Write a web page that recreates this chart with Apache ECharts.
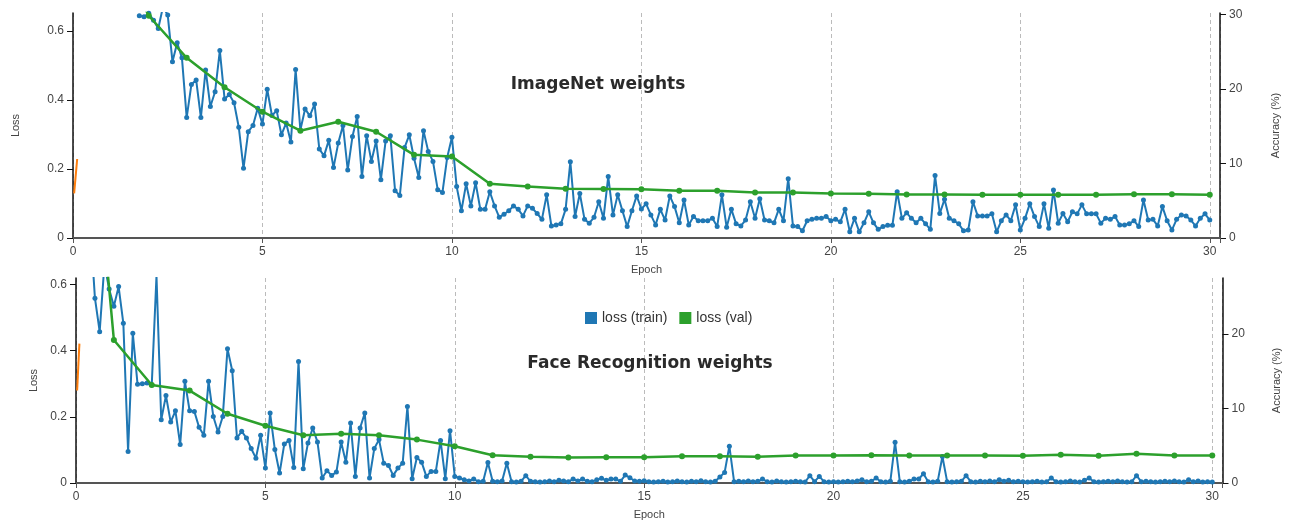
<!DOCTYPE html>
<html>
<head>
<meta charset="utf-8">
<script src="https://cdn.jsdelivr.net/npm/echarts@6/dist/echarts.min.js"></script>
<style>
html,body{margin:0;padding:0;background:#fff;}
#chart{width:1293px;height:526px;}
</style>
</head>
<body>
<div id="chart"></div>
<script>
// ---------- data ----------
const STEPS_PER_EPOCH = 8;
const X_TICKS = [0, 5, 10, 15, 20, 25, 30];
const LOSS_TICKS = [0, 0.2, 0.4, 0.6];
const ACC_TICKS_TOP = [0, 10, 20, 30];
const ACC_TICKS_BOTTOM = [0, 10, 20];
const TITLE_TOP = 'ImageNet weights';
const TITLE_BOTTOM = 'Face Recognition weights';

// ImageNet weights: training loss, 8 samples per epoch, first sample at epoch 1.75
const topTrainStart = 1.75;
const topTrainLoss = [
  0.644, 0.641,
  0.651, 0.631, 0.607, 0.67, 0.646, 0.511, 0.566, 0.522,
  0.349, 0.445, 0.458, 0.349, 0.487, 0.381, 0.424, 0.543,
  0.403, 0.416, 0.392, 0.321, 0.202, 0.308, 0.326, 0.376,
  0.330, 0.431, 0.355, 0.369, 0.299, 0.333, 0.278, 0.488,
  0.313, 0.374, 0.354, 0.388, 0.258, 0.238, 0.283, 0.204,
  0.275, 0.326, 0.197, 0.294, 0.352, 0.178, 0.296, 0.222,
  0.281, 0.169, 0.281, 0.296, 0.137, 0.123, 0.262, 0.299,
  0.231, 0.175, 0.311, 0.251, 0.222, 0.140, 0.132, 0.233,
  0.292, 0.149, 0.079, 0.157, 0.093, 0.160, 0.083, 0.083,
  0.134, 0.093, 0.060, 0.069, 0.079, 0.093, 0.083, 0.064,
  0.093, 0.086, 0.071, 0.054, 0.125, 0.035, 0.038, 0.041,
  0.083, 0.221, 0.062, 0.129, 0.054, 0.043, 0.060, 0.105,
  0.057, 0.178, 0.067, 0.125, 0.079, 0.033, 0.079, 0.122,
  0.084, 0.099, 0.067, 0.038, 0.083, 0.052, 0.122, 0.091,
  0.044, 0.110, 0.038, 0.062, 0.050, 0.050, 0.050, 0.057,
  0.033, 0.125, 0.031, 0.083, 0.041, 0.035, 0.052, 0.105,
  0.057, 0.114, 0.052, 0.050, 0.044, 0.083, 0.050, 0.172,
  0.035, 0.033, 0.021, 0.050, 0.054, 0.057, 0.057, 0.062,
  0.050, 0.054, 0.047, 0.083, 0.018, 0.057, 0.018, 0.044,
  0.076, 0.044, 0.025, 0.033, 0.037, 0.037, 0.134, 0.057,
  0.073, 0.057, 0.044, 0.057, 0.041, 0.025, 0.181, 0.071,
  0.112, 0.057, 0.050, 0.041, 0.021, 0.023, 0.105, 0.064,
  0.064, 0.064, 0.070, 0.018, 0.050, 0.067, 0.050, 0.096,
  0.023, 0.057, 0.099, 0.062, 0.033, 0.099, 0.028, 0.139,
  0.043, 0.071, 0.047, 0.076, 0.070, 0.096, 0.070, 0.070,
  0.070, 0.043, 0.057, 0.054, 0.062, 0.038, 0.038, 0.041,
  0.050, 0.033, 0.110, 0.052, 0.054, 0.035, 0.091, 0.050,
  0.023, 0.054, 0.067, 0.064, 0.052, 0.035, 0.057, 0.070,
  0.052
];
// ImageNet weights: validation loss at epochs 1..30
const topValStart = 1;
const topValLoss = [0.86, 0.644, 0.522, 0.437, 0.366, 0.311, 0.337, 0.308, 0.241, 0.236,
  0.157, 0.149, 0.143, 0.142, 0.141, 0.137, 0.137, 0.132, 0.132, 0.129,
  0.128, 0.126, 0.126, 0.125, 0.125, 0.125, 0.125, 0.127, 0.127, 0.125];
// ImageNet weights: accuracy fragment near epoch 0
const topAccEpochs = [0.03, 0.11];
const topAcc = [6.0, 10.6];

// Face Recognition weights: training loss, 8 samples per epoch, first at epoch 0.375
const botTrainStart = 0.375;
const botTrainLoss = [
  0.78, 0.558, 0.457, 0.66, 0.586,
  0.534, 0.593, 0.482, 0.095, 0.452, 0.298, 0.300, 0.302,
  0.296, 0.625, 0.191, 0.264, 0.184, 0.218, 0.116, 0.307,
  0.218, 0.216, 0.168, 0.144, 0.307, 0.201, 0.154, 0.201,
  0.405, 0.339, 0.136, 0.156, 0.136, 0.104, 0.075, 0.144,
  0.045, 0.211, 0.101, 0.030, 0.118, 0.128, 0.047, 0.367,
  0.043, 0.121, 0.166, 0.124, 0.015, 0.037, 0.023, 0.033,
  0.124, 0.063, 0.181, 0.020, 0.166, 0.211, 0.015, 0.104,
  0.131, 0.060, 0.053, 0.023, 0.045, 0.060, 0.231, 0.013,
  0.077, 0.063, 0.020, 0.035, 0.035, 0.128, 0.013, 0.158,
  0.020, 0.015, 0.010, 0.006, 0.012, 0.004, 0.005, 0.062,
  0.005, 0.004, 0.006, 0.060, 0.004, 0.003, 0.005, 0.022,
  0.005, 0.004, 0.003, 0.004, 0.006, 0.004, 0.008, 0.006,
  0.004, 0.012, 0.006, 0.012, 0.005, 0.004, 0.010, 0.014,
  0.008, 0.012, 0.012, 0.005, 0.024, 0.016, 0.006, 0.005,
  0.007, 0.004, 0.003, 0.004, 0.005, 0.003, 0.004, 0.006,
  0.004, 0.003, 0.005, 0.004, 0.007, 0.004, 0.003, 0.005,
  0.018, 0.032, 0.111, 0.004, 0.005, 0.004, 0.006, 0.004,
  0.005, 0.012, 0.004, 0.003, 0.006, 0.004, 0.003, 0.004,
  0.005, 0.004, 0.003, 0.022, 0.004, 0.020, 0.004, 0.003,
  0.004, 0.003, 0.004, 0.005, 0.004, 0.006, 0.010, 0.004,
  0.005, 0.015, 0.004, 0.003, 0.005, 0.123, 0.004, 0.003,
  0.005, 0.012, 0.012, 0.028, 0.004, 0.003, 0.005, 0.080,
  0.004, 0.003, 0.004, 0.005, 0.022, 0.004, 0.003, 0.005,
  0.004, 0.006, 0.004, 0.010, 0.005, 0.008, 0.004, 0.005,
  0.004, 0.003, 0.004, 0.005, 0.003, 0.004, 0.015, 0.004,
  0.003, 0.004, 0.006, 0.004, 0.003, 0.008, 0.015, 0.004,
  0.003, 0.004, 0.005, 0.004, 0.006, 0.004, 0.003, 0.004,
  0.022, 0.004, 0.005, 0.004, 0.003, 0.004, 0.005, 0.004,
  0.006, 0.004, 0.003, 0.010, 0.004, 0.006, 0.003, 0.004,
  0.003
];
// Face Recognition weights: validation loss at epochs 0..30
const botValStart = 0;
const botValLoss = [1.68, 0.432, 0.296, 0.279, 0.209, 0.173, 0.144, 0.149, 0.144, 0.131,
  0.111, 0.084, 0.079, 0.077, 0.078, 0.078, 0.081, 0.081, 0.079, 0.083,
  0.083, 0.084, 0.083, 0.083, 0.083, 0.082, 0.085, 0.082, 0.088, 0.083, 0.083];
const botAccEpochs = [0.03, 0.09];
const botAcc = [12.4, 18.7];

// ---------- build ----------
const sampled = (start, step, vals) => vals.map((v, i) => [start + i * step, v]);
const paired = (xs, ys) => xs.map((x, i) => [x, ys[i]]);

const BLUE = '#1f77b4', GREEN = '#2ca02c', ORANGE = '#ff7f0e';
const FONT = 'Liberation Sans, Arial, sans-serif';
const X_MAX = 30.27;

function xAxis(gridIndex) {
  return {
    type: 'value', gridIndex, min: 0, max: X_MAX,
    name: 'Epoch', nameLocation: 'middle', nameGap: 26,
    nameTextStyle: { fontSize: 11, color: '#444', fontFamily: FONT },
    axisLine: { show: true, onZero: false, lineStyle: { color: '#555', width: 2 } },
    axisTick: { show: true, length: 5, customValues: X_TICKS.concat([X_MAX]), lineStyle: { color: '#555' } },
    axisLabel: { customValues: X_TICKS, fontSize: 12, color: '#444', fontFamily: FONT, margin: 8 },
    splitLine: { show: true, lineStyle: { color: '#bbb', type: [4, 3], width: 1 } }
  };
}
function lossAxis(gridIndex, max, gap) {
  return {
    type: 'value', gridIndex, min: 0, max, position: 'left',
    name: 'Loss', nameLocation: 'middle', nameGap: gap, nameRotate: 90,
    nameTextStyle: { fontSize: 11, color: '#444', fontFamily: FONT },
    axisLine: { show: true, onZero: false, lineStyle: { color: '#111', width: 1.5 } },
    axisTick: { show: true, length: 6, customValues: LOSS_TICKS, lineStyle: { color: '#111' } },
    axisLabel: { customValues: LOSS_TICKS, fontSize: 12, color: '#444', fontFamily: FONT, margin: 9,
      formatter: v => (v === 0 ? '0' : String(+v.toFixed(1))) },
    splitLine: { show: false }
  };
}
function accAxis(gridIndex, max, ticks, gap) {
  return {
    type: 'value', gridIndex, min: 0, max, position: 'right',
    name: 'Accuracy (%)', nameLocation: 'middle', nameGap: gap, nameRotate: 90,
    nameTextStyle: { fontSize: 11, color: '#444', fontFamily: FONT },
    axisLine: { show: true, onZero: false, lineStyle: { color: '#111', width: 1.5 } },
    axisTick: { show: true, length: 6, customValues: ticks, lineStyle: { color: '#111' } },
    axisLabel: { customValues: ticks, fontSize: 12, color: '#444', fontFamily: FONT, margin: 9 },
    splitLine: { show: false }
  };
}
function trainSeries(name, xi, yi, data) {
  return { name, type: 'line', xAxisIndex: xi, yAxisIndex: yi, data, clip: true,
    symbol: 'circle', symbolSize: 5, showAllSymbol: true, color: BLUE,
    lineStyle: { width: 2, color: BLUE }, itemStyle: { color: BLUE }, z: 2 };
}
function valSeries(name, xi, yi, data) {
  return { name, type: 'line', xAxisIndex: xi, yAxisIndex: yi, data, clip: true,
    symbol: 'circle', symbolSize: 6, showAllSymbol: true, color: GREEN,
    lineStyle: { width: 2.5, color: GREEN }, itemStyle: { color: GREEN }, z: 3 };
}
function accSeries(xi, yi, data) {
  return { name: 'accuracy', type: 'line', xAxisIndex: xi, yAxisIndex: yi, data, clip: true,
    symbol: 'none', color: ORANGE, lineStyle: { width: 2, color: ORANGE }, z: 2 };
}

const chart = echarts.init(document.getElementById('chart'), null, { renderer: 'canvas' });
chart.setOption({
  animation: false,
  backgroundColor: '#fff',
  grid: [
    { left: 73, top: 13, width: 1147, height: 225 },
    { left: 76, top: 278, width: 1146.5, height: 205 }
  ],
  xAxis: [xAxis(0), xAxis(1)],
  yAxis: [
    lossAxis(0, 0.652, 52), accAxis(0, 30.2, ACC_TICKS_TOP, 50),
    lossAxis(1, 0.619, 36), accAxis(1, 27.5, ACC_TICKS_BOTTOM, 49)
  ],
  legend: {
    data: ['loss (train)', 'loss (val)'],
    left: 580, top: 306, icon: 'rect', itemWidth: 12, itemHeight: 12, itemGap: 12,
    textStyle: { fontSize: 14, color: '#333', fontFamily: FONT }
  },
  graphic: [
    { type: 'text', x: 598, y: 85, z: 10, style: { text: TITLE_TOP, align: 'center', verticalAlign: 'middle',
      textAlign: 'center', textVerticalAlign: 'middle', font: 'bold 17px "DejaVu Sans"', fill: '#2a2a2a',
      shadowBlur: 3, shadowColor: 'rgba(0,0,0,0.35)' } },
    { type: 'text', x: 650, y: 364, z: 10, style: { text: TITLE_BOTTOM, align: 'center', verticalAlign: 'middle',
      textAlign: 'center', textVerticalAlign: 'middle', font: 'bold 17px "DejaVu Sans"', fill: '#2a2a2a',
      shadowBlur: 3, shadowColor: 'rgba(0,0,0,0.35)' } }
  ],
  series: [
    trainSeries('loss (train)', 0, 0, sampled(topTrainStart, 1 / STEPS_PER_EPOCH, topTrainLoss)),
    accSeries(0, 1, paired(topAccEpochs, topAcc)),
    valSeries('loss (val)', 0, 0, sampled(topValStart, 1, topValLoss)),
    trainSeries('loss (train)', 1, 2, sampled(botTrainStart, 1 / STEPS_PER_EPOCH, botTrainLoss)),
    accSeries(1, 3, paired(botAccEpochs, botAcc)),
    valSeries('loss (val)', 1, 2, sampled(botValStart, 1, botValLoss))
  ]
});
</script>
</body>
</html>
